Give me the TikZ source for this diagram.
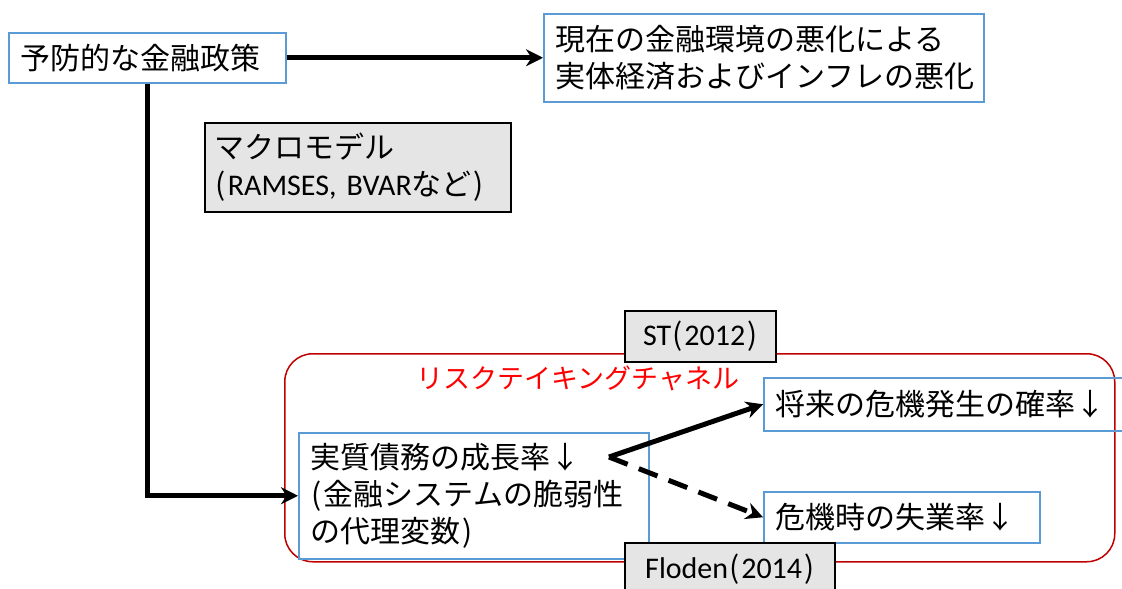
\documentclass[tikz,border=0pt]{standalone}
\usepackage{fontspec}
\setmainfont{Carlito}
\newfontfamily\jp{Noto Sans CJK JP}
\usetikzlibrary{arrows.meta}
\definecolor{boxblue}{HTML}{5B9BD5}
\definecolor{chanred}{HTML}{C00000}
\newcommand{\lat}{\rmfamily\fontsize{30}{37}\selectfont}
\newcommand{\lp}{\hspace*{1pt}({\kern2pt}}
\newcommand{\rp}{{\kern2pt})}
\tikzstyle{bluebox} = [rectangle, anchor=north west, draw=boxblue, line width=1.5pt, inner xsep=12pt, inner ysep=0pt, align=left, font=\jp\fontsize{30}{37}\selectfont]
\tikzstyle{greybox} = [bluebox, draw=black, fill=black!10]
\tikzstyle{arrow} = [line width=5pt, -{Stealth[length=17pt,width=17pt]}]
\tikzstyle{dasharrow} = [arrow, dash pattern=on 20pt off 12pt]
\begin{document}
\begin{tikzpicture}[x=1pt,y=-1pt]
\useasboundingbox (0,0) rectangle (1122,589);
% risk-taking channel frame
\node[rectangle, anchor=north west, draw=chanred, line width=1.5pt, rounded corners=28pt, minimum width=830pt, minimum height=208pt] (channel) at (284,353) {};
\node[text=red, font=\jp\fontsize{27}{32}\selectfont] (chanlabel) at (578,378) {リスクテイキングチャネル};
% boxes
\node[bluebox, text width=253pt, minimum height=50pt] (policy) at (8,32) {予防的な金融政策};
\node[bluebox, text width=416pt, minimum height=88pt] (outlook) at (543,13) {現在の金融環境の悪化による\\実体経済およびインフレの悪化};
\node[greybox, inner xsep=10pt, text width=286pt, minimum height=89pt] (macro) at (204,122) {マクロモデル\\\lp{\lat RAMSES, BVAR}など\rp};
\node[bluebox, text width=326pt, minimum height=126pt] (debt) at (298,432) {実質債務の成長率↓\\\lp 金融システムの脆弱性\\の代理変数\rp};
\node[bluebox, text width=343pt, minimum height=53pt] (future) at (763,377) {将来の危機発生の確率↓};
\node[bluebox, text width=252pt, minimum height=51pt] (crisis) at (763,491) {危機時の失業率↓};
\node[greybox, align=center, inner xsep=2pt, minimum width=151pt, minimum height=51pt] (st) at (624,310) {{\lat ST}\lp{\lat 2012}\rp};
\node[greybox, align=center, inner xsep=2pt, minimum width=210pt, minimum height=52pt] (floden) at (624,542) {{\lat Floden}\lp{\lat 2014}\rp};
\coordinate (fork) at (609,457);
% connectors
\draw[arrow] (policy.east) -- (outlook.west |- policy.east);
\draw[arrow] ([xshift=139pt]policy.south west) |- (debt.west);
\draw[arrow] (fork) -- (future.west);
\draw[dasharrow] (fork) -- (crisis.west);
\end{tikzpicture}
\end{document}
